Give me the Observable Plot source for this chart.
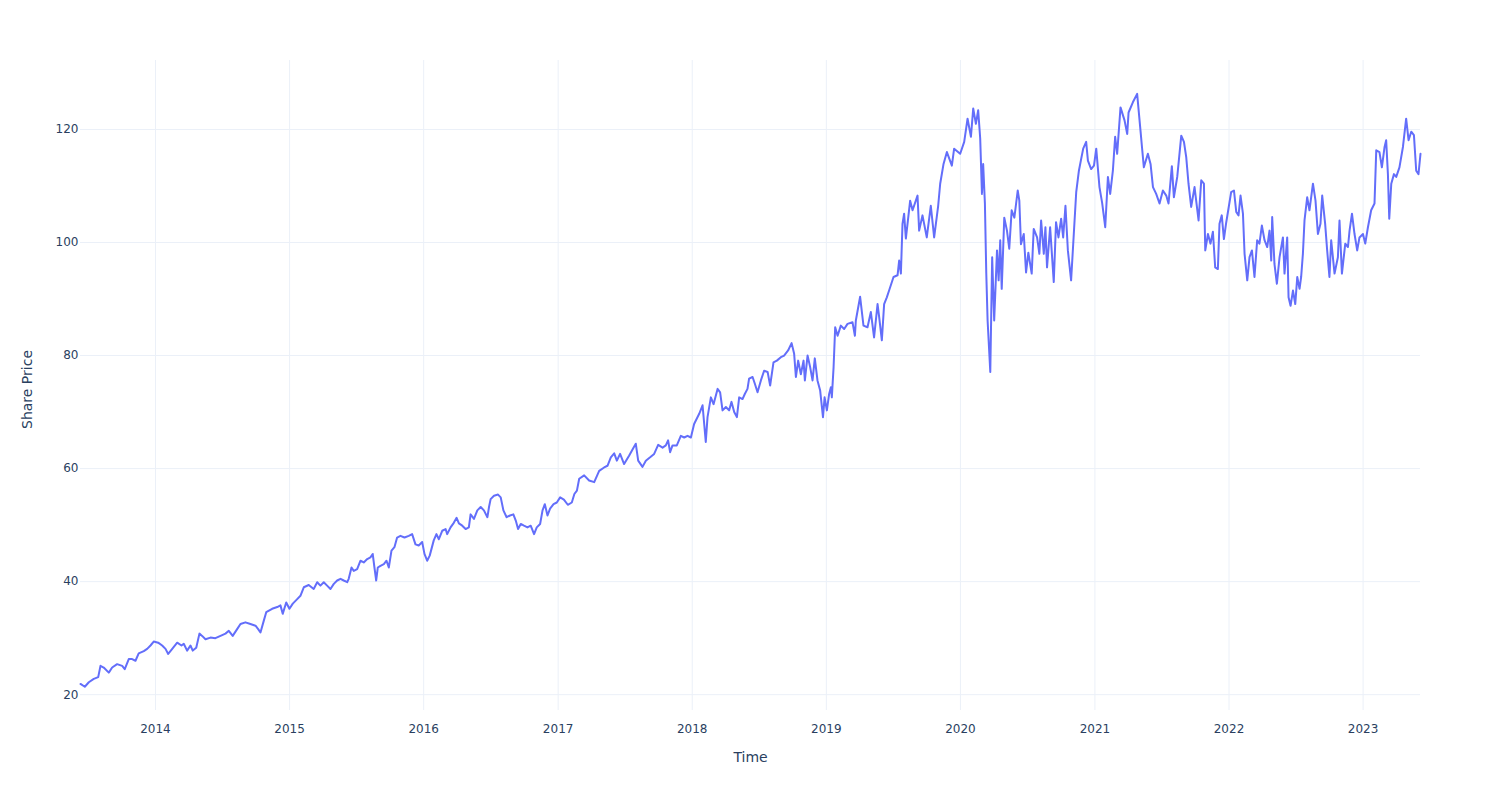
<!DOCTYPE html>
<html><head><meta charset="utf-8">
<script src="https://cdn.jsdelivr.net/npm/d3@7"></script>
<script src="https://cdn.jsdelivr.net/npm/@observablehq/plot@0.6"></script>
<style>body{margin:0;background:#fff;} #chart svg{display:block}</style>
</head><body><div id="chart"></div>
<script>
// decimal-year timestamps
const years = [
2013.441,2013.473,2013.503,2013.540,2013.573,2013.590,2013.614,2013.652,2013.677,2013.714,2013.752,2013.771,2013.801,2013.826,2013.851,2013.875,2013.913,2013.938,2013.963,2013.987,
2014.020,2014.050,2014.075,2014.095,2014.125,2014.162,2014.194,2014.211,2014.236,2014.261,2014.278,2014.304,2014.328,2014.348,2014.373,2014.410,2014.447,2014.485,2014.522,2014.547,
2014.576,2014.609,2014.634,2014.671,2014.708,2014.746,2014.766,2014.783,2014.808,2014.826,2014.870,2014.908,2014.932,2014.949,2014.975,2014.999,
2015.024,2015.057,2015.081,2015.106,2015.143,2015.180,2015.206,2015.230,2015.255,2015.280,2015.305,2015.330,2015.355,2015.380,2015.404,2015.430,2015.441,2015.462,2015.479,2015.504,
2015.529,2015.553,2015.579,2015.603,2015.620,2015.633,2015.646,2015.658,2015.678,2015.703,2015.723,2015.740,2015.760,2015.782,2015.802,2015.827,2015.857,2015.889,2015.914,2015.939,2015.963,2015.989,
2016.006,2016.026,2016.045,2016.075,2016.095,2016.113,2016.138,2016.163,2016.175,2016.200,2016.224,2016.245,2016.262,2016.287,2016.312,2016.336,2016.349,2016.374,2016.399,2016.424,
2016.448,2016.474,2016.486,2016.498,2016.523,2016.553,2016.573,2016.593,2016.617,2016.642,2016.667,2016.685,2016.702,2016.722,2016.746,2016.772,2016.796,2016.821,2016.841,2016.866,
2016.884,2016.901,2016.921,2016.940,2016.966,2016.990,
2017.015,2017.043,2017.072,2017.102,2017.121,2017.140,2017.157,2017.194,2017.231,2017.269,2017.306,2017.343,2017.368,2017.393,2017.418,2017.438,2017.462,2017.492,2017.530,2017.562,
2017.579,2017.597,2017.629,2017.654,2017.686,2017.716,2017.746,2017.779,2017.803,2017.820,2017.835,2017.853,2017.885,2017.915,2017.940,2017.965,2017.990,
2018.014,2018.052,2018.077,2018.101,2018.114,2018.139,2018.159,2018.189,2018.208,2018.226,2018.251,2018.275,2018.293,2018.313,2018.333,2018.350,2018.375,2018.392,2018.412,2018.424,
2018.450,2018.467,2018.487,2018.512,2018.536,2018.562,2018.581,2018.606,2018.631,2018.661,2018.685,2018.715,2018.741,2018.760,2018.773,2018.790,2018.810,2018.830,2018.840,2018.860,
2018.879,2018.897,2018.914,2018.934,2018.954,2018.975,2018.987,
2019.004,2019.021,2019.034,2019.041,2019.054,2019.066,2019.084,2019.108,2019.133,2019.158,2019.195,2019.213,2019.220,2019.252,2019.277,2019.307,2019.332,2019.356,2019.382,2019.394,
2019.414,2019.431,2019.451,2019.468,2019.501,2019.531,2019.543,2019.556,2019.568,2019.580,2019.593,2019.625,2019.643,2019.680,2019.692,2019.717,2019.749,2019.779,2019.804,2019.834,
2019.849,2019.874,2019.899,2019.936,2019.953,2019.998,
2020.028,2020.053,2020.078,2020.095,2020.115,2020.132,2020.147,2020.160,2020.169,2020.182,2020.192,2020.202,2020.222,2020.236,2020.251,2020.272,2020.284,2020.296,2020.307,2020.326,
2020.346,2020.363,2020.381,2020.401,2020.426,2020.438,2020.450,2020.471,2020.488,2020.505,2020.530,2020.545,2020.570,2020.587,2020.600,2020.620,2020.632,2020.644,2020.667,2020.694,
2020.711,2020.729,2020.749,2020.764,2020.781,2020.799,2020.823,2020.843,2020.861,2020.881,2020.898,2020.913,2020.935,2020.948,2020.972,2020.993,
2021.010,2021.034,2021.054,2021.077,2021.097,2021.114,2021.134,2021.151,2021.166,2021.191,2021.221,2021.241,2021.251,2021.283,2021.315,2021.340,2021.351,2021.365,2021.395,2021.415,
2021.433,2021.457,2021.482,2021.507,2021.532,2021.549,2021.574,2021.589,2021.614,2021.644,2021.664,2021.681,2021.698,2021.718,2021.743,2021.773,2021.793,2021.813,2021.823,2021.843,
2021.862,2021.880,2021.897,2021.917,2021.929,2021.946,2021.962,2021.979,2021.992,
2022.016,2022.037,2022.054,2022.071,2022.086,2022.104,2022.116,2022.136,2022.153,2022.171,2022.190,2022.210,2022.227,2022.245,2022.265,2022.285,2022.302,2022.315,2022.322,2022.339,
2022.357,2022.377,2022.402,2022.414,2022.434,2022.444,2022.459,2022.477,2022.494,2022.509,2022.526,2022.538,2022.551,2022.563,2022.583,2022.600,2022.626,2022.645,2022.663,2022.682,
2022.695,2022.717,2022.732,2022.749,2022.762,2022.787,2022.812,2022.824,2022.842,2022.867,2022.887,2022.899,2022.917,2022.936,2022.956,2022.973,2022.999,
2023.016,2023.036,2023.060,2023.085,2023.098,2023.122,2023.140,2023.160,2023.172,2023.185,2023.195,2023.210,2023.230,2023.247,2023.271,2023.297,2023.321,2023.339,2023.359,2023.379,
2023.396,2023.413,2023.428
];
// share prices
const prices = [
21.9,21.4,22.2,22.8,23.1,25.1,24.8,23.9,24.8,25.4,25.1,24.5,26.3,26.3,26.0,27.3,27.7,28.1,28.7,29.4,
29.2,28.7,28.1,27.2,28.1,29.2,28.7,29.0,27.8,28.7,27.8,28.3,30.8,30.4,29.8,30.1,30.0,30.4,30.8,31.3,
30.4,31.6,32.5,32.8,32.5,32.2,31.6,31.0,33.1,34.6,35.2,35.5,35.8,34.3,36.3,35.2,
36.1,36.9,37.5,39.0,39.4,38.7,39.9,39.3,39.9,39.3,38.7,39.6,40.2,40.5,40.2,39.9,40.5,42.5,41.9,42.2,
43.7,43.4,44.0,44.3,44.9,42.5,40.2,42.5,42.8,43.1,43.7,42.5,45.5,46.1,47.8,48.1,47.8,48.1,48.4,46.6,46.4,47.0,
44.9,43.7,44.6,47.3,48.4,47.5,49.0,49.3,48.4,49.6,50.4,51.3,50.3,49.9,49.3,49.6,51.9,51.1,52.6,53.2,
52.6,51.4,53.2,54.6,55.2,55.4,54.9,52.6,51.4,51.7,51.9,50.8,49.3,50.2,49.9,49.6,49.9,48.4,49.6,50.2,
52.6,53.7,51.7,52.9,53.7,54.0,
54.9,54.5,53.6,54.0,55.5,56.1,58.2,58.8,57.9,57.6,59.6,60.2,60.5,62.0,62.7,61.4,62.6,60.8,62.3,63.7,
64.4,61.4,60.3,61.4,62.0,62.6,64.2,63.7,64.1,65.0,62.9,64.1,64.1,65.8,65.5,65.8,65.5,
67.9,69.7,71.2,64.7,69.1,72.6,71.4,74.1,73.5,70.3,70.9,70.3,71.8,70.0,69.1,72.6,72.3,73.2,74.1,75.9,
76.2,75.0,73.5,75.6,77.3,77.1,74.7,78.8,79.1,79.7,80.0,80.9,82.2,80.3,76.2,79.1,76.7,79.1,75.6,80.0,
78.0,75.6,79.5,75.6,73.8,69.1,72.6,
70.3,73.2,74.4,72.6,77.9,85.0,83.5,85.3,84.7,85.6,85.9,83.5,86.2,90.4,85.3,85.0,87.7,83.2,89.1,86.8,
82.7,89.1,90.3,91.5,93.9,94.2,96.8,94.5,103.3,105.1,100.7,107.4,105.7,108.3,102.1,104.8,100.9,106.5,100.9,106.5,
110.4,113.9,116.0,113.6,116.6,115.7,
117.8,121.9,118.7,123.7,121.0,123.4,118.4,108.6,113.9,106.9,94.7,86.2,77.1,97.4,86.2,98.6,93.3,100.4,91.8,104.4,
102.1,98.9,105.7,104.4,109.2,107.4,99.7,101.5,94.7,98.2,94.5,102.4,100.9,98.0,103.9,98.0,102.7,95.6,102.7,93.0,
103.6,100.9,104.2,100.9,106.5,98.6,93.3,101.5,108.9,112.7,114.8,116.6,117.8,114.5,113.0,113.6,
116.6,109.8,107.0,102.7,111.6,108.6,112.7,118.7,115.7,123.9,121.6,119.2,123.0,124.8,126.3,119.8,116.9,113.3,115.7,113.9,
109.8,108.6,106.9,109.2,108.3,106.9,113.5,108.0,111.6,118.9,117.8,115.1,110.4,106.3,109.8,103.9,111.0,110.4,98.6,101.5,
99.8,101.9,95.6,95.3,103.3,104.8,100.6,103.5,105.4,
108.9,109.2,105.4,104.8,108.3,105.1,98.0,93.3,97.4,98.6,93.9,100.4,99.8,103.0,100.4,99.2,102.1,96.8,104.5,96.2,
92.7,97.4,100.9,94.5,100.9,90.3,88.8,91.5,89.1,93.9,91.8,93.9,98.0,103.9,108.0,105.7,110.4,107.4,101.5,103.3,
108.3,103.3,98.6,93.9,100.4,94.5,97.4,103.9,94.5,99.8,99.2,102.1,105.1,101.5,98.6,100.9,101.5,
99.8,102.7,105.7,106.9,116.3,116.0,113.3,116.9,118.1,112.1,104.2,110.4,112.1,111.6,113.3,116.9,121.9,118.1,119.6,119.0,
112.7,112.1,115.7
];
const tickYears = [2014,2015,2016,2017,2018,2019,2020,2021,2022,2023];
const yTicks = [20,40,60,80,100,120];
const xTitle = "Time";
const yTitle = "Share Price";

function toDate(t) {
  const y = Math.floor(t);
  const a = Date.UTC(y, 0, 1), b = Date.UTC(y + 1, 0, 1);
  return new Date(a + (t - y) * (b - a));
}
const data = years.map((t, i) => ({date: toDate(t), price: prices[i]}));
const xTickDates = tickYears.map(y => new Date(Date.UTC(y, 0, 1)));

const chart = Plot.plot({
  width: 1500,
  height: 800,
  marginLeft: 80,
  marginRight: 80,
  marginTop: 60,
  marginBottom: 90,
  style: {fontFamily: "'DejaVu Sans', Verdana, sans-serif", fontSize: "12px", color: "#2a3f5f", background: "#fff"},
  x: {type: "utc", domain: [data[0].date, data[data.length - 1].date]},
  y: {domain: [17.2, 132.2]},
  marks: [
    Plot.gridX(xTickDates, {stroke: "#ebf0f8", strokeOpacity: 1, strokeWidth: 1}),
    Plot.gridY(yTicks, {stroke: "#ebf0f8", strokeOpacity: 1, strokeWidth: 1}),
    Plot.axisX(xTickDates, {tickSize: 0, tickPadding: 14, tickFormat: d3.utcFormat("%Y"), label: null, fill: "#2a3f5f"}),
    Plot.axisY(yTicks, {tickSize: 0, tickPadding: 2, label: null, fill: "#2a3f5f"}),
    Plot.lineY(data, {x: "date", y: "price", stroke: "#636efa", strokeWidth: 2, strokeLinejoin: "round"}),
    Plot.text([xTitle], {frameAnchor: "bottom", dy: 51, fontSize: 14, fill: "#2a3f5f"}),
    Plot.text([yTitle], {frameAnchor: "left", textAnchor: "middle", lineAnchor: "middle", dx: -53, dy: 4, rotate: -90, fontSize: 14, fill: "#2a3f5f"})
  ]
});
document.getElementById("chart").appendChild(chart);
</script>
</body></html>
